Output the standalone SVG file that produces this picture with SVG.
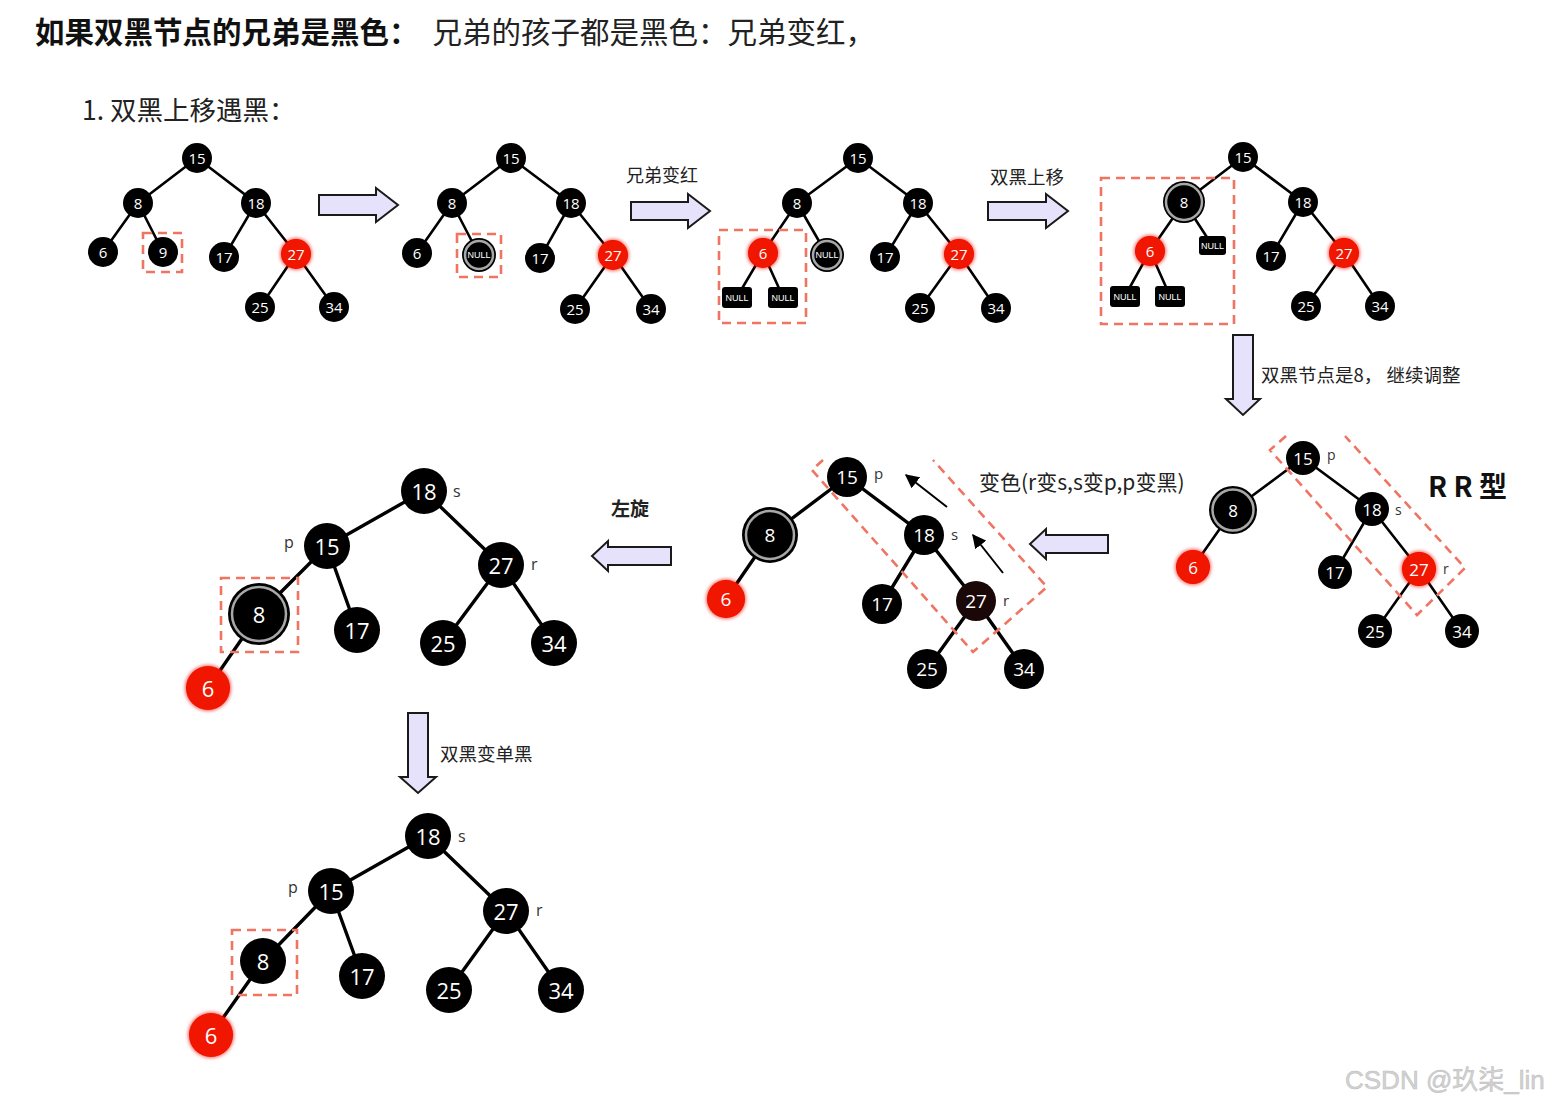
<svg xmlns="http://www.w3.org/2000/svg" width="1567" height="1106" viewBox="0 0 1567 1106">
<style>
.bg{fill:#ffffff}
.e{stroke:#000;stroke-width:2.6;fill:none}
.e2{stroke:#000;stroke-width:3.4;fill:none}
.n{fill:#000}
.rd{fill:#f01200}
.ring{fill:none;stroke:#a8a8a8;stroke-width:2.5}
.t{fill:#fff;font-family:"Open Sans","Liberation Sans",sans-serif;text-anchor:middle;dominant-baseline:central}
.nl{fill:#fff;font-family:"Liberation Sans",sans-serif;text-anchor:middle;dominant-baseline:central;font-size:9px}
.d{fill:none;stroke:#f07462;stroke-width:2.6;stroke-dasharray:9 6}
.ba{fill:#e6e2fb;stroke:#1a1a1a;stroke-width:2}
.lb{fill:#222;font-family:"Noto Sans CJK SC",sans-serif}
.psr{fill:#333;font-family:"Open Sans","Liberation Sans",sans-serif}
.ta{stroke:#000;stroke-width:2;fill:none}
</style>
<defs>
<filter id="glow" x="-50%" y="-50%" width="200%" height="200%">
<feGaussianBlur in="SourceGraphic" stdDeviation="2"/>
<feMerge><feMergeNode/><feMergeNode in="SourceGraphic"/></feMerge>
</filter>
<marker id="ah" viewBox="0 0 10 10" refX="9" refY="5" markerWidth="7" markerHeight="7" orient="auto">
<path d="M0,0 L10,5 L0,10 Z" fill="#000"/>
</marker>
</defs>
<rect class="bg" x="0" y="0" width="1567" height="1106"/>

<!-- Titles -->
<g id="title">
<text x="35" y="43" font-size="29.5" class="lb" fill="#111"><tspan font-weight="700" fill="#111">如果双黑节点的兄弟是黑色：</tspan><tspan dx="14" font-weight="400">兄弟的孩子都是黑色：兄弟变红，</tspan></text>
<text x="82" y="120" font-size="26.5" class="lb">1. 双黑上移遇黑：</text>
</g>

<!-- Connectors -->
<g id="connectors">
<path class="e" d="M197,158 L138,203 M197,158 L256,203 M138,203 L103,252 M138,203 L163,252 M256,203 L224,257 M256,203 L296,254 M296,254 L260,307 M296,254 L334,307"/>
<path class="e" d="M511,158 L452,203 M511,158 L571,203 M452,203 L417,253 M452,203 L479,255 M571,203 L540,258 M571,203 L613,255 M613,255 L575,309 M613,255 L651,309"/>
<path class="e" d="M858,158 L797,203 M858,158 L918,203 M797,203 L763,253 M797,203 L827,255 M918,203 L885,257 M918,203 L959,254 M959,254 L920,308 M959,254 L996,308 M763,253 L737,297 M763,253 L783,297"/>
<path class="e" d="M1243,157 L1184,202 M1243,157 L1303,202 M1184,202 L1150,251 M1184,202 L1212,245 M1303,202 L1271,256 M1303,202 L1344,253 M1344,253 L1306,306 M1344,253 L1380,306 M1150,251 L1125,296 M1150,251 L1170,296"/>
<path class="e" d="M1303,458 L1233,510 M1303,458 L1372,509 M1233,510 L1193,567 M1372,509 L1335,572 M1372,509 L1419,569 M1419,569 L1375,631 M1419,569 L1462,631"/>
<path class="e2" d="M847,477 L770,535 M847,477 L924,535 M770,535 L726,599 M924,535 L882,604 M924,535 L976,601 M976,601 L927,669 M976,601 L1024,669"/>
<path class="e2" d="M424,491 L327,546 M424,491 L501,565 M327,546 L259,614 M327,546 L357,630 M501,565 L443,643 M501,565 L554,643 M259,614 L208,688"/>
<path class="e2" d="M428,836 L331,891 M428,836 L506,911 M331,891 L263,961 M331,891 L362,976 M506,911 L449,990 M506,911 L561,990 M263,961 L211,1035"/>
<path class="ta" d="M947,507 L906,475" marker-end="url(#ah)"/>
<path class="ta" d="M1003,573 L973,535" marker-end="url(#ah)"/>
<path class="ba" d="M319,195 H376 V188 L398,205 L376,222 V215 H319 Z"/>
<path class="ba" d="M631,202 H688 V194 L710,211 L688,228 V220 H631 Z"/>
<path class="ba" d="M988,202 H1046 V194 L1068,211 L1046,228 V220 H988 Z"/>
<path class="ba" d="M1233,335 V399 H1226 L1243,415 L1260,399 H1253 V335 Z"/>
<path class="ba" d="M1108,535 H1046 V529 L1030,544 L1046,559 V553 H1108 Z"/>
<path class="ba" d="M671,547 H608 V541 L592,556 L608,571 V565 H671 Z"/>
<path class="ba" d="M408,713 V777 H400 L418,793 L436,777 H428 V713 Z"/>
</g>

<!-- Dashed highlight boxes -->
<g id="highlights">
<rect class="d" x="143" y="233" width="39" height="39"/>
<rect class="d" x="457" y="234" width="44" height="43"/>
<rect class="d" x="719" y="230" width="87" height="93"/>
<rect class="d" x="1101" y="178" width="133" height="146"/>
<polyline class="d" points="1286,436 1270,450 1417,615 1465,568 1345,436"/>
<polyline class="d" points="823,460 812,470 973,652 1047,587 933,460"/>
<rect class="d" x="221" y="578" width="77" height="74"/>
<rect class="d" x="232" y="930" width="65" height="65"/>
</g>

<!-- Labels -->
<g id="labels">
<text class="lb" x="626" y="182" font-size="18">兄弟变红</text>
<text class="lb" x="990" y="184" font-size="18.5">双黑上移</text>
<text class="lb" x="1261" y="382" font-size="18.5">双黑节点是8， 继续调整</text>
<text x="1428" y="497" font-size="28" font-weight="700" fill="#111" font-family="'Noto Sans CJK SC',sans-serif">R R 型</text>
<text class="lb" x="979" y="490" font-size="21">变色(r变s,s变p,p变黑)</text>
<text class="lb" x="611" y="516" font-size="19" font-weight="700">左旋</text>
<text class="lb" x="440" y="761" font-size="18.5">双黑变单黑</text>
<text x="1345" y="1089" font-size="26" fill="#d2d2d2" stroke="#bdbdbd" stroke-width="0.5" font-family="'Liberation Sans','Noto Sans CJK SC',sans-serif">CSDN @玖柒_lin</text>
</g>

<!-- Tree 1 -->
<g id="t1-15"><circle class="n" cx="197" cy="158" r="15"/><text class="t" x="197" y="158" font-size="15">15</text></g>
<g id="t1-8"><circle class="n" cx="138" cy="203" r="15"/><text class="t" x="138" y="203" font-size="15">8</text></g>
<g id="t1-18"><circle class="n" cx="256" cy="203" r="15"/><text class="t" x="256" y="203" font-size="15">18</text></g>
<g id="t1-6"><circle class="n" cx="103" cy="252" r="15"/><text class="t" x="103" y="252" font-size="15">6</text></g>
<g id="t1-9"><circle class="n" cx="163" cy="252" r="15"/><text class="t" x="163" y="252" font-size="15">9</text></g>
<g id="t1-17"><circle class="n" cx="224" cy="257" r="15"/><text class="t" x="224" y="257" font-size="15">17</text></g>
<g id="t1-27"><circle class="rd" cx="296" cy="254" r="15" filter="url(#glow)"/><text class="t" x="296" y="254" font-size="15">27</text></g>
<g id="t1-25"><circle class="n" cx="260" cy="307" r="15"/><text class="t" x="260" y="307" font-size="15">25</text></g>
<g id="t1-34"><circle class="n" cx="334" cy="307" r="15"/><text class="t" x="334" y="307" font-size="15">34</text></g>

<!-- Tree 2 -->
<g id="t2-15"><circle class="n" cx="511" cy="158" r="15"/><text class="t" x="511" y="158" font-size="15">15</text></g>
<g id="t2-8"><circle class="n" cx="452" cy="203" r="15"/><text class="t" x="452" y="203" font-size="15">8</text></g>
<g id="t2-18"><circle class="n" cx="571" cy="203" r="15"/><text class="t" x="571" y="203" font-size="15">18</text></g>
<g id="t2-6"><circle class="n" cx="417" cy="253" r="15"/><text class="t" x="417" y="253" font-size="15">6</text></g>
<g id="t2-null"><circle class="n" cx="479" cy="255" r="17"/><circle class="ring" cx="479" cy="255" r="14"/><circle class="n" cx="479" cy="255" r="12"/><text class="nl" x="479" y="255" font-size="5">NULL</text></g>
<g id="t2-17"><circle class="n" cx="540" cy="258" r="15"/><text class="t" x="540" y="258" font-size="15">17</text></g>
<g id="t2-27"><circle class="rd" cx="613" cy="255" r="15" filter="url(#glow)"/><text class="t" x="613" y="255" font-size="15">27</text></g>
<g id="t2-25"><circle class="n" cx="575" cy="309" r="15"/><text class="t" x="575" y="309" font-size="15">25</text></g>
<g id="t2-34"><circle class="n" cx="651" cy="309" r="15"/><text class="t" x="651" y="309" font-size="15">34</text></g>

<!-- Tree 3 -->
<g id="t3-15"><circle class="n" cx="858" cy="158" r="15"/><text class="t" x="858" y="158" font-size="15">15</text></g>
<g id="t3-8"><circle class="n" cx="797" cy="203" r="15"/><text class="t" x="797" y="203" font-size="15">8</text></g>
<g id="t3-18"><circle class="n" cx="918" cy="203" r="15"/><text class="t" x="918" y="203" font-size="15">18</text></g>
<g id="t3-6"><circle class="rd" cx="763" cy="253" r="15" filter="url(#glow)"/><text class="t" x="763" y="253" font-size="15">6</text></g>
<g id="t3-null"><circle class="n" cx="827" cy="255" r="17"/><circle class="ring" cx="827" cy="255" r="14"/><circle class="n" cx="827" cy="255" r="12"/><text class="nl" x="827" y="255" font-size="5">NULL</text></g>
<g id="t3-17"><circle class="n" cx="885" cy="257" r="15"/><text class="t" x="885" y="257" font-size="15">17</text></g>
<g id="t3-27"><circle class="rd" cx="959" cy="254" r="15" filter="url(#glow)"/><text class="t" x="959" y="254" font-size="15">27</text></g>
<g id="t3-25"><circle class="n" cx="920" cy="308" r="15"/><text class="t" x="920" y="308" font-size="15">25</text></g>
<g id="t3-34"><circle class="n" cx="996" cy="308" r="15"/><text class="t" x="996" y="308" font-size="15">34</text></g>
<g id="t3-nullA"><rect class="n" x="722" y="287" width="30" height="21" rx="3"/><text class="nl" x="737" y="297.5">NULL</text></g>
<g id="t3-nullB"><rect class="n" x="768" y="287" width="30" height="21" rx="3"/><text class="nl" x="783" y="297.5">NULL</text></g>

<!-- Tree 4 -->
<g id="t4-15"><circle class="n" cx="1243" cy="157" r="15"/><text class="t" x="1243" y="157" font-size="15">15</text></g>
<g id="t4-8"><circle class="n" cx="1184" cy="202" r="21"/><circle class="ring" cx="1184" cy="202" r="18"/><circle class="n" cx="1184" cy="202" r="15"/><text class="t" x="1184" y="202" font-size="15">8</text></g>
<g id="t4-18"><circle class="n" cx="1303" cy="202" r="15"/><text class="t" x="1303" y="202" font-size="15">18</text></g>
<g id="t4-6"><circle class="rd" cx="1150" cy="251" r="15" filter="url(#glow)"/><text class="t" x="1150" y="251" font-size="15">6</text></g>
<g id="t4-null"><rect class="n" x="1199" y="236" width="27" height="19" rx="3"/><text class="nl" x="1212.5" y="245.5" font-size="6">NULL</text></g>
<g id="t4-17"><circle class="n" cx="1271" cy="256" r="15"/><text class="t" x="1271" y="256" font-size="15">17</text></g>
<g id="t4-27"><circle class="rd" cx="1344" cy="253" r="15" filter="url(#glow)"/><text class="t" x="1344" y="253" font-size="15">27</text></g>
<g id="t4-25"><circle class="n" cx="1306" cy="306" r="15"/><text class="t" x="1306" y="306" font-size="15">25</text></g>
<g id="t4-34"><circle class="n" cx="1380" cy="306" r="15"/><text class="t" x="1380" y="306" font-size="15">34</text></g>
<g id="t4-nullA"><rect class="n" x="1110" y="286" width="30" height="21" rx="3"/><text class="nl" x="1125" y="296.5">NULL</text></g>
<g id="t4-nullB"><rect class="n" x="1155" y="286" width="30" height="21" rx="3"/><text class="nl" x="1170" y="296.5">NULL</text></g>

<!-- Tree 5 -->
<g id="t5-15"><circle class="n" cx="1303" cy="458" r="17"/><text class="t" x="1303" y="458" font-size="17">15</text><text class="psr" x="1327" y="460" font-size="14">p</text></g>
<g id="t5-8"><circle class="n" cx="1233" cy="510" r="24"/><circle class="ring" cx="1233" cy="510" r="20.5"/><circle class="n" cx="1233" cy="510" r="17"/><text class="t" x="1233" y="510" font-size="17">8</text></g>
<g id="t5-18"><circle class="n" cx="1372" cy="509" r="17"/><text class="t" x="1372" y="509" font-size="17">18</text><text class="psr" x="1395" y="515" font-size="14">s</text></g>
<g id="t5-6"><circle class="rd" cx="1193" cy="567" r="17" filter="url(#glow)"/><text class="t" x="1193" y="567" font-size="17">6</text></g>
<g id="t5-17"><circle class="n" cx="1335" cy="572" r="17"/><text class="t" x="1335" y="572" font-size="17">17</text></g>
<g id="t5-27"><circle class="rd" cx="1419" cy="569" r="17" filter="url(#glow)"/><text class="t" x="1419" y="569" font-size="17">27</text><text class="psr" x="1443" y="574" font-size="14">r</text></g>
<g id="t5-25"><circle class="n" cx="1375" cy="631" r="17"/><text class="t" x="1375" y="631" font-size="17">25</text></g>
<g id="t5-34"><circle class="n" cx="1462" cy="631" r="17"/><text class="t" x="1462" y="631" font-size="17">34</text></g>

<!-- Tree 6 -->
<g id="t6-15"><circle class="n" cx="847" cy="477" r="20"/><text class="t" x="847" y="477" font-size="19">15</text><text class="psr" x="874" y="479" font-size="15">p</text></g>
<g id="t6-8"><circle class="n" cx="770" cy="535" r="28"/><circle class="ring" cx="770" cy="535" r="24"/><circle class="n" cx="770" cy="535" r="20"/><text class="t" x="770" y="535" font-size="19">8</text></g>
<g id="t6-18"><circle class="n" cx="924" cy="535" r="20"/><text class="t" x="924" y="535" font-size="19">18</text><text class="psr" x="951" y="540" font-size="15">s</text></g>
<g id="t6-6"><circle class="rd" cx="726" cy="599" r="19" filter="url(#glow)"/><text class="t" x="726" y="599" font-size="19">6</text></g>
<g id="t6-17"><circle class="n" cx="882" cy="604" r="20"/><text class="t" x="882" y="604" font-size="19">17</text></g>
<g id="t6-27"><circle cx="976" cy="601" r="20" fill="#1a0808"/><text class="t" x="976" y="601" font-size="19">27</text><text class="psr" x="1003" y="606" font-size="15">r</text></g>
<g id="t6-25"><circle class="n" cx="927" cy="669" r="20"/><text class="t" x="927" y="669" font-size="19">25</text></g>
<g id="t6-34"><circle class="n" cx="1024" cy="669" r="20"/><text class="t" x="1024" y="669" font-size="19">34</text></g>

<!-- Tree 7 -->
<g id="t7-18"><circle class="n" cx="424" cy="491" r="23"/><text class="t" x="424" y="491" font-size="22">18</text><text class="psr" x="453" y="497" font-size="16">s</text></g>
<g id="t7-15"><circle class="n" cx="327" cy="546" r="23"/><text class="t" x="327" y="546" font-size="22">15</text><text class="psr" x="284" y="548" font-size="16">p</text></g>
<g id="t7-27"><circle class="n" cx="501" cy="565" r="23"/><text class="t" x="501" y="565" font-size="22">27</text><text class="psr" x="531" y="570" font-size="16">r</text></g>
<g id="t7-8"><circle class="n" cx="259" cy="614" r="31"/><circle class="ring" cx="259" cy="614" r="27"/><circle class="n" cx="259" cy="614" r="23"/><text class="t" x="259" y="614" font-size="22">8</text></g>
<g id="t7-17"><circle class="n" cx="357" cy="630" r="23"/><text class="t" x="357" y="630" font-size="22">17</text></g>
<g id="t7-25"><circle class="n" cx="443" cy="643" r="23"/><text class="t" x="443" y="643" font-size="22">25</text></g>
<g id="t7-34"><circle class="n" cx="554" cy="643" r="23"/><text class="t" x="554" y="643" font-size="22">34</text></g>
<g id="t7-6"><circle class="rd" cx="208" cy="688" r="22" filter="url(#glow)"/><text class="t" x="208" y="688" font-size="22">6</text></g>

<!-- Tree 8 -->
<g id="t8-18"><circle class="n" cx="428" cy="836" r="23"/><text class="t" x="428" y="836" font-size="22">18</text><text class="psr" x="458" y="842" font-size="16">s</text></g>
<g id="t8-15"><circle class="n" cx="331" cy="891" r="23"/><text class="t" x="331" y="891" font-size="22">15</text><text class="psr" x="288" y="893" font-size="16">p</text></g>
<g id="t8-27"><circle class="n" cx="506" cy="911" r="23"/><text class="t" x="506" y="911" font-size="22">27</text><text class="psr" x="536" y="916" font-size="16">r</text></g>
<g id="t8-8"><circle class="n" cx="263" cy="961" r="23"/><text class="t" x="263" y="961" font-size="22">8</text></g>
<g id="t8-17"><circle class="n" cx="362" cy="976" r="23"/><text class="t" x="362" y="976" font-size="22">17</text></g>
<g id="t8-25"><circle class="n" cx="449" cy="990" r="23"/><text class="t" x="449" y="990" font-size="22">25</text></g>
<g id="t8-34"><circle class="n" cx="561" cy="990" r="23"/><text class="t" x="561" y="990" font-size="22">34</text></g>
<g id="t8-6"><circle class="rd" cx="211" cy="1035" r="22" filter="url(#glow)"/><text class="t" x="211" y="1035" font-size="22">6</text></g>
</svg>
